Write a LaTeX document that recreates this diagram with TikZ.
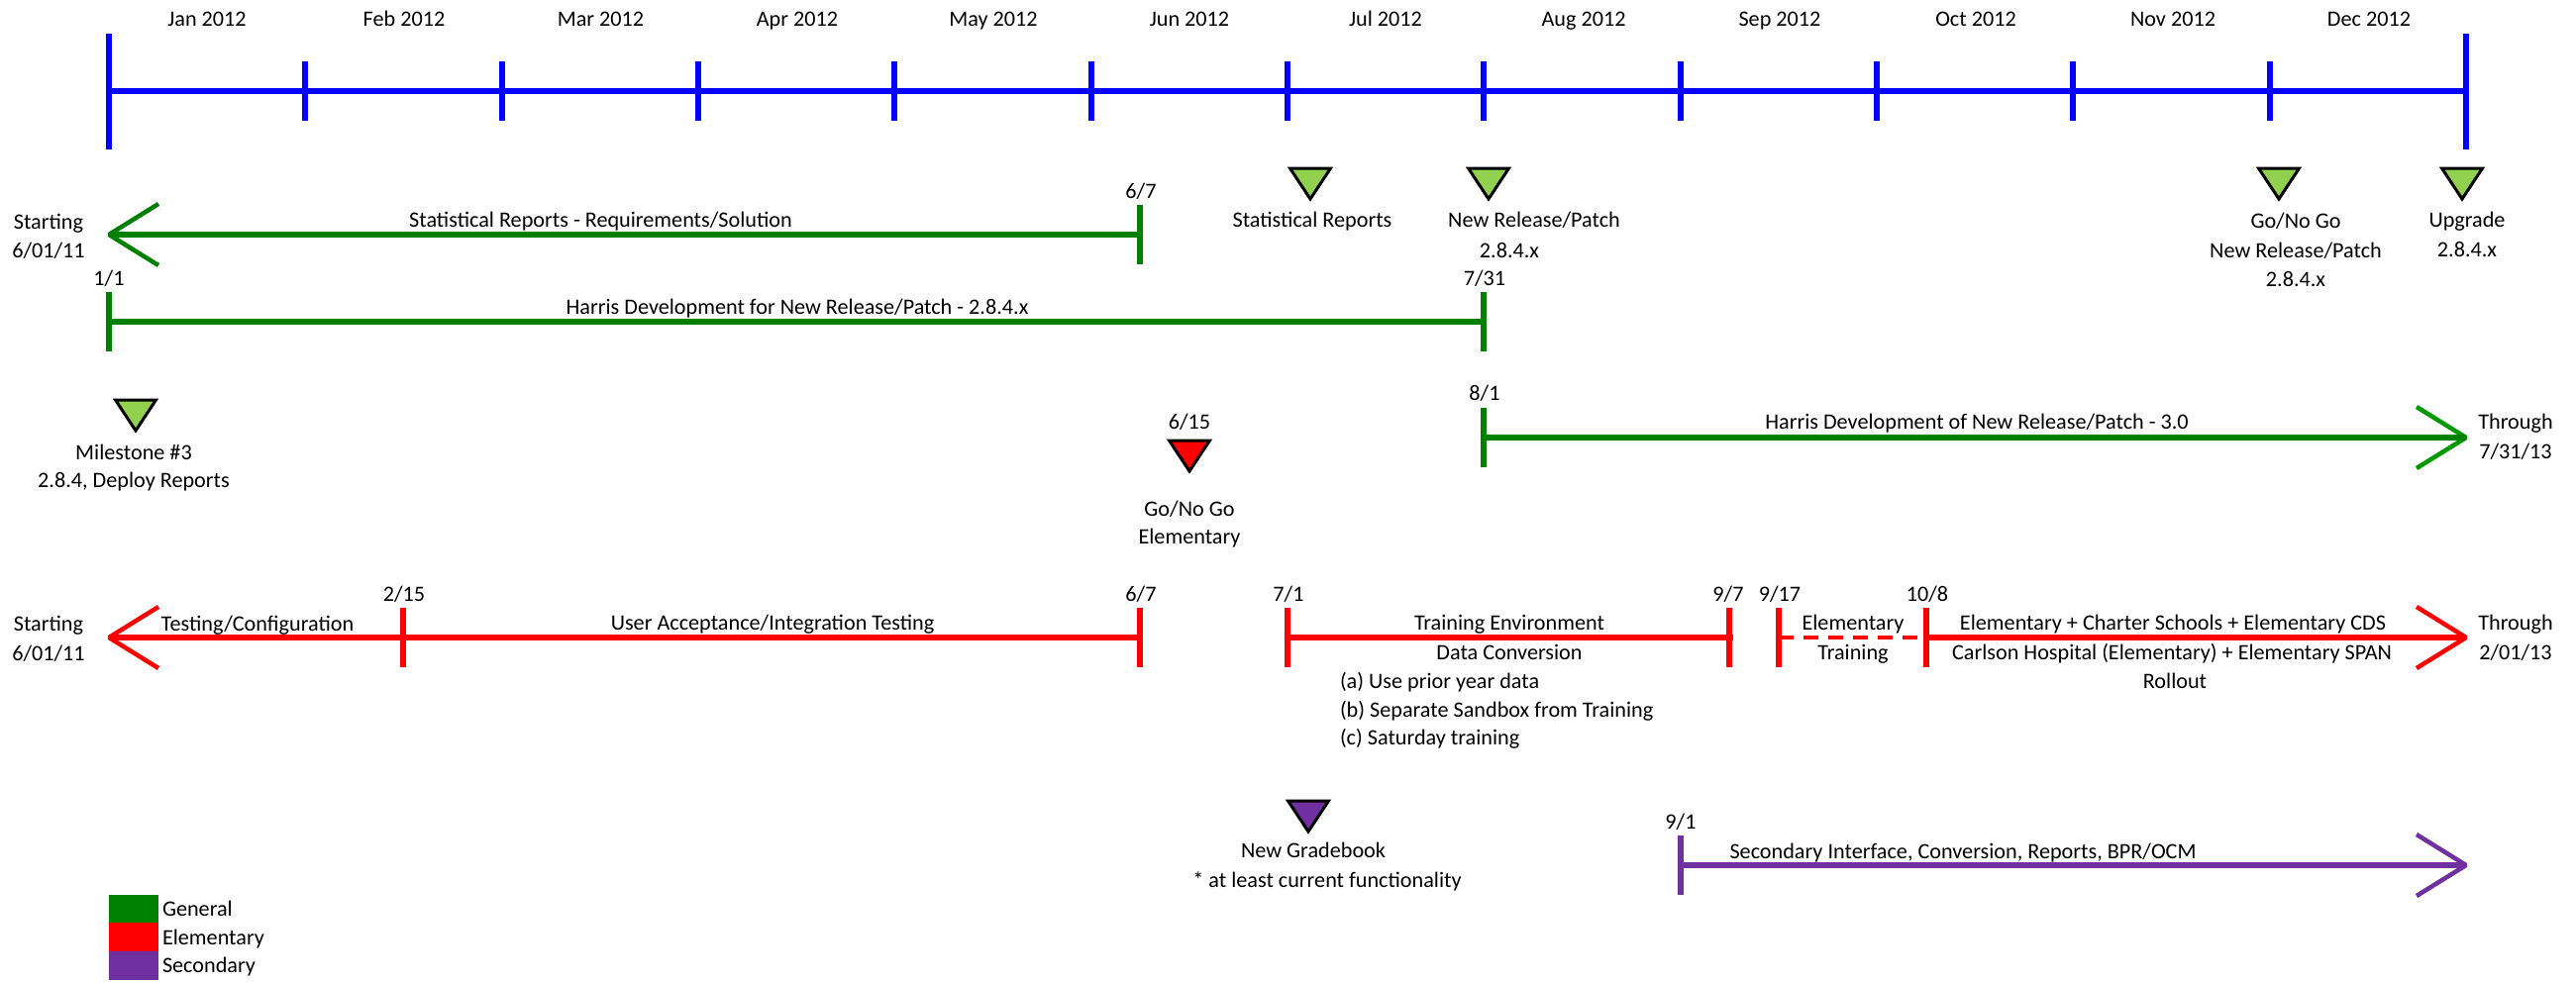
\documentclass[tikz,border=0pt]{standalone}
\usepackage{fontspec}
\setmainfont{Carlito}
\definecolor{gen}{HTML}{008000}
\definecolor{genlight}{HTML}{009A00}
\definecolor{ele}{HTML}{FF0000}
\definecolor{blu}{HTML}{0000FF}
\definecolor{sec}{HTML}{7030A0}
\definecolor{lime}{HTML}{92D050}
\tikzset{
  lbl/.style={anchor=base,inner sep=0pt,outer sep=0pt,font=\fontsize{22.2bp}{26bp}\selectfont,text=black},
  lbll/.style={lbl,anchor=base west},
  bar/.style={line width=6bp,line cap=butt},
  tickm/.style={line width=6bp,line cap=butt},
  barb/.style={line width=4.5bp,line cap=butt,line join=bevel},
  dashbar/.style={line width=3.8bp,line cap=butt,dash pattern=on 15bp off 10bp},
  tri/.style={draw=black,line width=3bp,line join=miter,miter limit=10}
}
% \marker{name}{left x}{top y}{fill}
\newcommand{\marker}[4]{%
  \coordinate (#1a) at (#2+2.5,#3+2);
  \coordinate (#1b) at (#2+43.5,#3+2);
  \coordinate (#1c) at (#2+23,#3+33);
  \draw[tri,fill=#4] (#1a) -- (#1b) -- (#1c) -- cycle;
}
% \vtick{name}{x}{top}{bottom}{style}
\newcommand{\vtick}[5]{%
  \coordinate (#1t) at (#2,#3);
  \coordinate (#1b) at (#2,#4);
  \coordinate (#1) at (#2,{(#3+#4)/2});
  \draw[tickm,#5] (#1t) -- (#1b);
}
% \head{name}{tip x}{barb x}{y}{colour}
\newcommand{\head}[5]{%
  \coordinate (#1) at (#2,#4);
  \coordinate (#1u) at (#3,#4-31);
  \coordinate (#1d) at (#3,#4+31);
  \draw[barb,#5] (#1u) -- (#1) -- (#1d);
}
\newcommand{\lbl}[4]{\node[lbl] (#1) at (#2,#3) {#4};}
\newcommand{\lbll}[4]{\node[lbll] (#1) at (#2,#3) {#4};}
\begin{document}
\begin{tikzpicture}[x=1bp,y=-1bp]
\useasboundingbox (0,0) rectangle (2601,991);
% --- blue scale
\vtick{b0}{110}{34}{151}{blu}
\vtick{b12}{2490}{34}{151}{blu}
\foreach \i in {1,...,11}{
  \pgfmathsetmacro{\xx}{110+198.33*\i}
  \vtick{b\i}{\xx}{62}{122}{blu}
}
\coordinate (bl) at (110,92);
\coordinate (br) at (2490,92);
\draw[bar,blu] (bl) -- (br);
\lbl{m1}{209}{26}{Jan 2012}
\lbl{m2}{408}{26}{Feb 2012}
\lbl{m3}{606.5}{26}{Mar 2012}
\lbl{m4}{805}{26}{Apr 2012}
\lbl{m5}{1003}{26}{May 2012}
\lbl{m6}{1201}{26}{Jun 2012}
\lbl{m7}{1399}{26}{Jul 2012}
\lbl{m8}{1599}{26}{Aug 2012}
\lbl{m9}{1797}{26}{Sep 2012}
\lbl{m10}{1995}{26}{Oct 2012}
\lbl{m11}{2194}{26}{Nov 2012}
\lbl{m12}{2392}{26}{Dec 2012}
% --- green 1
\head{g1h}{110}{160}{237}{gen}
\vtick{g1e}{1151}{207}{267}{gen}
\draw[bar,gen] (g1h) -- (g1e);
\lbl{t1}{49}{231}{Starting}
\lbl{t2}{49}{260}{6/01/11}
\lbl{t3}{606.5}{229}{Statistical Reports - Requirements/Solution}
\lbl{t4}{1152}{200}{6/7}
% --- green 2
\vtick{g2s}{110}{295}{355}{gen}
\vtick{g2e}{1498}{295}{355}{gen}
\draw[bar,gen] (g2s) -- (g2e);
\lbl{t5}{110}{288}{1/1}
\lbl{t6}{805}{317}{Harris Development for New Release/Patch - 2.8.4.x}
\lbl{t7}{1499}{288}{7/31}
% --- green 3
\vtick{g3s}{1498}{412}{472}{gen}
\head{g3h}{2490}{2440}{442}{genlight}
\draw[bar,gen] (g3s) -- (g3h);
\lbl{t8}{1499}{404}{8/1}
\lbl{t9}{1996}{433}{Harris Development of New Release/Patch - 3.0}
\lbl{t10}{2540}{433}{Through}
\lbl{t11}{2540}{463}{7/31/13}
% --- markers
\marker{k1}{114}{402}{lime}
\lbl{t12}{135}{464.5}{Milestone \#3}
\lbl{t13}{135}{492}{2.8.4, Deploy Reports}
\marker{k2}{1300}{168}{lime}
\lbl{t14}{1325}{229}{Statistical Reports}
\marker{k3}{1480}{168}{lime}
\lbl{t15}{1549}{229}{New Release/Patch}
\lbl{t16}{1524}{260}{2.8.4.x}
\marker{k4}{2278}{168}{lime}
\lbl{t17}{2318}{230}{Go/No Go}
\lbl{t18}{2318}{260}{New Release/Patch}
\lbl{t19}{2318}{289}{2.8.4.x}
\marker{k5}{2463}{168}{lime}
\lbl{t20}{2491}{229}{Upgrade}
\lbl{t21}{2491}{259}{2.8.4.x}
\marker{k6}{1178}{443}{ele}
\lbl{t22}{1201}{433}{6/15}
\lbl{t23}{1201}{521}{Go/No Go}
\lbl{t24}{1201}{549}{Elementary}
\marker{k7}{1298}{807}{sec}
\lbl{t25}{1326}{866}{New Gradebook}
\lbl{t26}{1340}{896}{* at least current functionality}
% --- red row
\head{r1h}{110}{160}{644}{ele}
\vtick{r2}{407}{614}{674}{ele}
\vtick{r3}{1151}{614}{674}{ele}
\vtick{r4}{1300}{614}{674}{ele}
\vtick{r5}{1745.5}{614}{674}{ele}
\coordinate (r5x) at (1750,644);
\vtick{r6}{1796}{614}{674}{ele}
\vtick{r7}{1945}{614}{674}{ele}
\head{r8h}{2490}{2440}{644}{ele}
\draw[bar,ele] (r1h) -- (r3);
\draw[bar,ele] (r4) -- (r5x);
\draw[dashbar,ele] (r6) -- (r7);
\draw[bar,ele] (r7) -- (r8h);
\lbl{t27}{49}{637}{Starting}
\lbl{t28}{49}{667}{6/01/11}
\lbl{t29}{260}{637}{Testing/Configuration}
\lbl{t30}{408}{607}{2/15}
\lbl{t31}{780}{636}{User Acceptance/Integration Testing}
\lbl{t32}{1152}{607}{6/7}
\lbl{t33}{1301}{607}{7/1}
\lbl{t34}{1524}{636}{Training Environment}
\lbl{t35}{1524}{666}{Data Conversion}
\lbll{t36}{1353}{695}{(a) Use prior year data}
\lbll{t37}{1353}{724}{(b) Separate Sandbox from Training}
\lbll{t38}{1353}{752}{(c) Saturday training}
\lbl{t39}{1745}{607}{9/7}
\lbl{t40}{1797}{607}{9/17}
\lbl{t41}{1946}{607}{10/8}
\lbl{t42}{1871}{636}{Elementary}
\lbl{t43}{1871}{666}{Training}
\lbl{t44}{2194}{636}{Elementary + Charter Schools + Elementary CDS}
\lbl{t45}{2193}{666}{Carlson Hospital (Elementary) + Elementary SPAN}
\lbl{t46}{2196}{695}{Rollout}
\lbl{t47}{2540}{636}{Through}
\lbl{t48}{2540}{666}{2/01/13}
% --- purple row
\vtick{p1}{1697}{844}{904}{sec}
\head{p2h}{2490}{2440}{874}{sec}
\draw[bar,sec] (p1) -- (p2h);
\lbl{t49}{1697}{837}{9/1}
\lbl{t50}{1982}{867}{Secondary Interface, Conversion, Reports, BPR/OCM}
% --- legend
\fill[gen] (110,904) rectangle (160,932.5);
\fill[ele] (110,932) rectangle (160,961.5);
\fill[sec] (110,961) rectangle (160,990);
\lbll{l1}{164}{925}{General}
\lbll{l2}{164}{954}{Elementary}
\lbll{l3}{164}{982}{Secondary}
\end{tikzpicture}
\end{document}
